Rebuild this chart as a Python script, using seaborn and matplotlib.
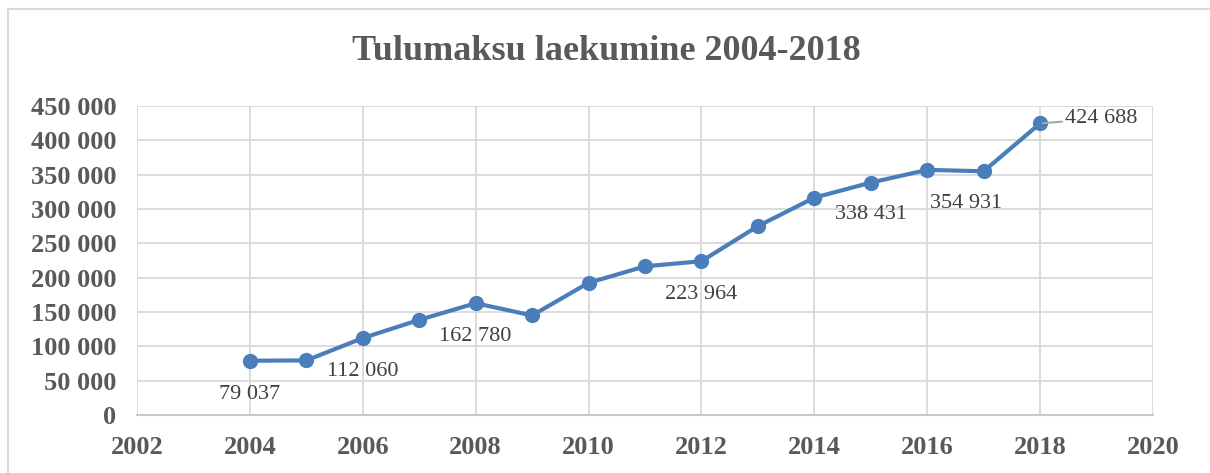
import matplotlib
matplotlib.use("Agg")
import matplotlib.pyplot as plt
import seaborn as sns
import pandas as pd
from matplotlib.lines import Line2D
from matplotlib.ticker import FuncFormatter

# tulumaksu laekumine
years = [2004, 2005, 2006, 2007, 2008, 2009, 2010, 2011, 2012, 2013, 2014, 2015, 2016, 2017, 2018]
values = [79037, 79500, 112060, 138500, 162780, 145000, 192500, 216500, 223964,
          275000, 316500, 338431, 357000, 354931, 424688]
labelled_years = [2004, 2006, 2008, 2012, 2015, 2017, 2018]

df = pd.DataFrame({"aasta": years, "tulumaks": values})

sns.set_style("white")
plt.rcParams["font.family"] = ["Liberation Serif", "DejaVu Serif"]

line_col = "#4a7ebb"
grid_col = "#d9d9d9"
tick_col = "#595959"

fig = plt.figure(figsize=(12.1, 4.73), dpi=100)
ax = fig.add_axes([137 / 1210, 1 - 415 / 473, (1153 - 137) / 1210, (415 - 106) / 473])

sns.lineplot(data=df, x="aasta", y="tulumaks", ax=ax, color=line_col, linewidth=3,
             marker="o", markersize=11, markeredgewidth=0, markeredgecolor=line_col)

ax.set_xlim(2002, 2020)
ax.set_ylim(0, 450000)
ax.set_xticks(range(2002, 2021, 2))
ax.set_yticks(range(0, 450001, 50000))
ax.yaxis.set_major_formatter(FuncFormatter(lambda v, p: f"{int(v):,}".replace(",", " ")))
ax.grid(True, color=grid_col, linewidth=1.3)
ax.set_axisbelow(True)
for s in ax.spines.values():
    s.set_visible(False)
ax.spines["bottom"].set_visible(True)
ax.spines["bottom"].set_color("#c8c8c8")
ax.spines["bottom"].set_linewidth(1.5)
ax.tick_params(length=0, colors=tick_col, labelsize=19)
ax.tick_params(axis="y", pad=15)
ax.tick_params(axis="x", pad=15)
for t in ax.get_xticklabels() + ax.get_yticklabels():
    t.set_fontweight("bold")
ax.set_xlabel("")
ax.set_ylabel("")

# label offsets in points (Excel labels sit below the markers, last one to the right)
offsets = {2004: (0, -24), 2006: (0, -24), 2008: (0, -24), 2012: (0, -24),
           2015: (0, -23), 2017: (-13, -23)}
for yr, val in zip(years, values):
    if yr not in labelled_years:
        continue
    txt = f"{val:,}".replace(",", " ")
    if yr == 2018:
        ax.annotate(txt, (yr, val), xytext=(18, 3.5), textcoords="offset points",
                    ha="left", va="center", fontsize=16, color="#404040",
                    arrowprops=dict(arrowstyle="-", color="#a6a6a6", lw=1.5,
                                    shrinkA=0, shrinkB=2))
    else:
        ax.annotate(txt, (yr, val), xytext=offsets[yr], textcoords="offset points",
                    ha="center", va="center", fontsize=16, color="#404040")

fig.text(606 / 1210, 1 - 52 / 473, "Tulumaksu laekumine 2004-2018", ha="center", va="center",
         fontsize=26, fontweight="bold", color=tick_col)

# chart frame (cropped)
fig.add_artist(Line2D([8 / 1210, 8 / 1210], [0, 1 - 9 / 473], transform=fig.transFigure,
                      color=grid_col, linewidth=1.5))
fig.add_artist(Line2D([8 / 1210, 1.01], [1 - 9 / 473, 1 - 9 / 473], transform=fig.transFigure,
                      color=grid_col, linewidth=1.5))

fig.savefig("out.png", dpi=100, facecolor="white")
